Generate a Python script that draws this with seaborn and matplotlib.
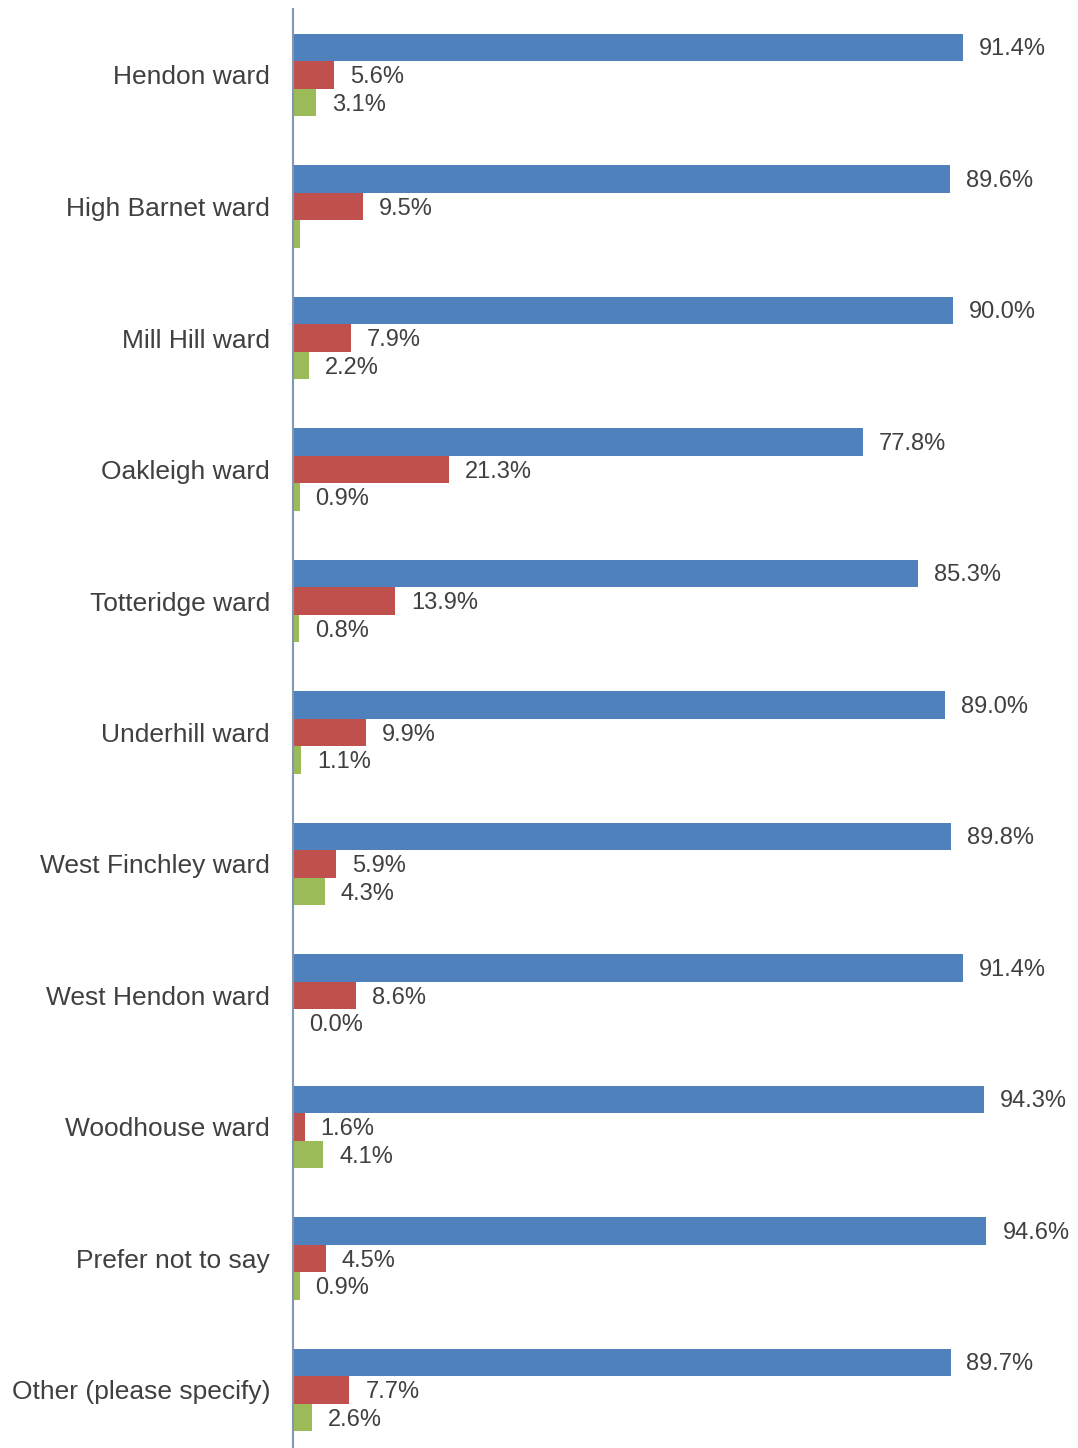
import matplotlib
matplotlib.use("Agg")
import matplotlib.pyplot as plt
import seaborn as sns
import pandas as pd

categories = ["Hendon ward", "High Barnet ward", "Mill Hill ward", "Oakleigh ward",
              "Totteridge ward", "Underhill ward", "West Finchley ward", "West Hendon ward",
              "Woodhouse ward", "Prefer not to say", "Other (please specify)"]
series_names = ["Series 1", "Series 2", "Series 3"]
blue_vals = [91.4, 89.6, 90.0, 77.8, 85.3, 89.0, 89.8, 91.4, 94.3, 94.6, 89.7]
red_vals = [5.6, 9.5, 7.9, 21.3, 13.9, 9.9, 5.9, 8.6, 1.6, 4.5, 7.7]
green_vals = [3.1, 0.9, 2.2, 0.9, 0.8, 1.1, 4.3, 0.0, 4.1, 0.9, 2.6]
green_labels = ["3.1%", "", "2.2%", "0.9%", "0.8%", "1.1%", "4.3%", "0.0%", "4.1%", "0.9%", "2.6%"]
colors = ["#4F81BD", "#C0504D", "#9BBB59"]

sns.set_theme(style="white")
plt.rcParams['font.family'] = ['Liberation Sans', 'DejaVu Sans']

rows = []
for s, vals in zip(series_names, [blue_vals, red_vals, green_vals]):
    for c, v in zip(categories, vals):
        rows.append({"category": c, "series": s, "value": v})
df = pd.DataFrame(rows)

fig = plt.figure(figsize=(10.78, 14.48), dpi=100)
ax = fig.add_axes([293/1078, -7.75/1448, 733/1078, 1446.5/1448])
sns.barplot(data=df, y="category", x="value", hue="series", order=categories,
            hue_order=series_names, palette=colors, orient="h", width=0.63,
            saturation=1, legend=False, ax=ax, edgecolor="none", linewidth=0)

ax.set_xlim(0, 100)
ax.set_ylim(len(categories) - 0.5, -0.5)
label_sets = [[f"{v:.1f}%" for v in blue_vals], [f"{v:.1f}%" for v in red_vals], green_labels]
for cont, labs in zip(ax.containers, label_sets):
    texts = ax.bar_label(cont, labels=labs, padding=11.5, fontsize=17, color="#404040")
    for t in texts:
        t.set_va("center")
        t.set_position((t.get_position()[0], -1.5))

ax.set_xlabel("")
ax.set_ylabel("")
ax.set_xticks([])
for sp in ["top", "right", "bottom"]:
    ax.spines[sp].set_visible(False)
ax.spines["left"].set_color("#8497B0")
ax.spines["left"].set_linewidth(1.5)
ax.tick_params(axis="y", length=0, pad=16.5, labelsize=19, labelcolor="#404040")

fig.savefig("out.png", dpi=100)
